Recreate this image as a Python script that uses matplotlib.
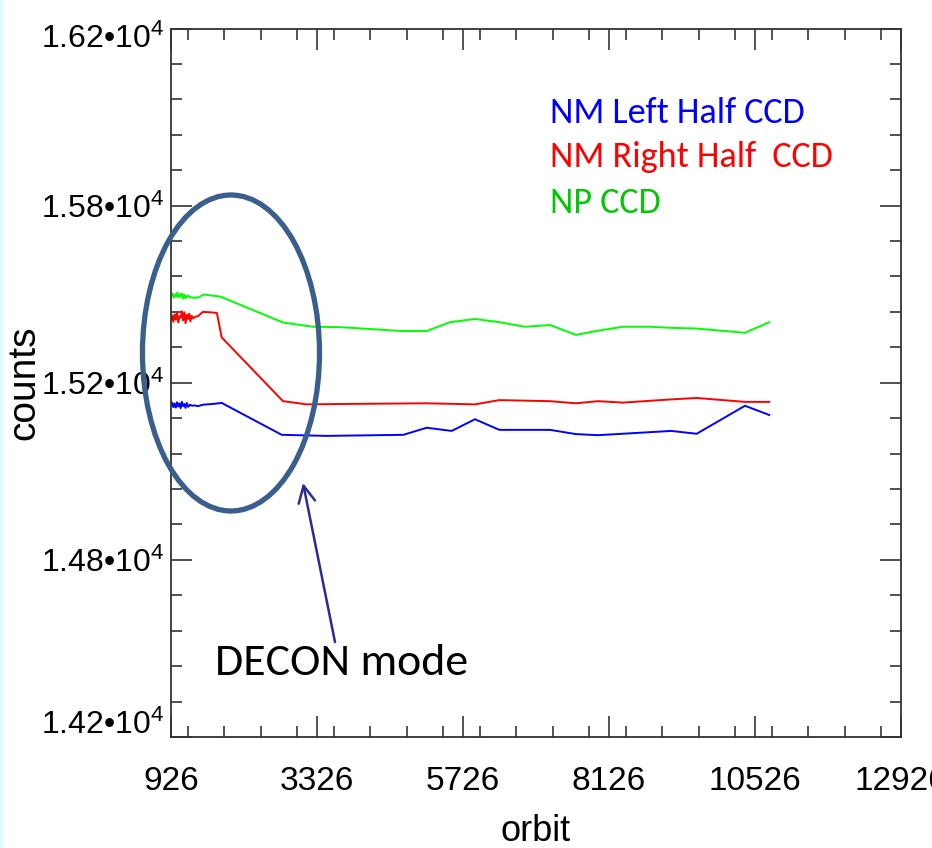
import matplotlib
matplotlib.use("Agg")
import matplotlib.pyplot as plt
from matplotlib import font_manager
from matplotlib.patches import Ellipse, Rectangle
from matplotlib.ticker import FixedLocator, FixedFormatter, MultipleLocator
from matplotlib.transforms import ScaledTranslation

# ---- data -------------------------------------------------------------
left_orbit = [926, 945, 965, 985, 1005, 1025, 1045, 1065, 1085, 1105, 1125,
              1145, 1165, 1185, 1210, 1240, 1270, 1310, 1370, 1450, 1600,
              1760, 2746, 3485, 4745, 5129, 5540, 5923, 6323, 7156, 7583,
              7945, 9150, 9567, 10361, 10761]
left_counts = [15137, 15144, 15131, 15141, 15130, 15145, 15133, 15142, 15128,
               15146, 15134, 15140, 15129, 15143, 15132, 15138, 15135, 15136,
               15134, 15138, 15140, 15143, 15053, 15050, 15053, 15073, 15064,
               15097, 15067, 15067, 15055, 15052, 15064, 15056, 15135, 15109]

right_orbit = [926, 945, 965, 985, 1005, 1025, 1045, 1065, 1085, 1105, 1125,
               1145, 1165, 1185, 1205, 1225, 1245, 1265, 1290, 1320, 1370,
               1450, 1560, 1680, 1759, 2767, 3157, 3704, 5129, 5923, 6323,
               7156, 7583, 7945, 8356, 9150, 9567, 10361, 10761]
right_counts = [15381, 15390, 15372, 15393, 15378, 15398, 15370, 15388, 15384,
                15402, 15376, 15399, 15368, 15392, 15380, 15395, 15373, 15389,
                15382, 15386, 15388, 15400, 15399, 15397, 15328, 15148, 15139,
                15140, 15142, 15139, 15151, 15148, 15142, 15148, 15144, 15153,
                15157, 15146, 15146]

np_orbit = [926, 950, 970, 990, 1010, 1030, 1050, 1070, 1090, 1110, 1130,
            1150, 1170, 1200, 1230, 1260, 1300, 1340, 1380, 1420, 1468, 1560,
            1740, 2767, 3260, 3704, 4718, 5129, 5512, 5923, 6323, 6745, 7156,
            7583, 7945, 8356, 8800, 9150, 9567, 10361, 10761]
np_counts = [15446, 15452, 15440, 15449, 15443, 15455, 15441, 15450, 15444,
             15452, 15437, 15448, 15439, 15446, 15443, 15441, 15440, 15440,
             15441, 15445, 15449, 15447, 15443, 15370, 15358, 15357, 15346,
             15346, 15371, 15380, 15371, 15358, 15363, 15335, 15347, 15358,
             15358, 15355, 15353, 15341, 15371]

x_ticks = [926, 3326, 5726, 8126, 10526, 12926]
x_tick_labels = ["926", "3326", "5726", "8126", "10526", "12926"]
y_ticks = [14200, 14700, 15200, 15700, 16200]
y_tick_labels = ["1.42\u202210$^{4}$", "1.48\u202210$^{4}$", "1.52\u202210$^{4}$",
                 "1.58\u202210$^{4}$", "1.62\u202210$^{4}$"]

series_names = ["NM Left Half CCD", "NM Right Half  CCD", "NP CCD"]
line_colors = ["#0000ff", "#ff0000", "#00ff00"]
text_colors = ["#0000ff", "#ff0000", "#00c800"]

# ---- fonts ------------------------------------------------------------
available = {f.name for f in font_manager.fontManager.ttflist}
axis_font = "Liberation Sans Narrow" if "Liberation Sans Narrow" in available else "Liberation Sans"
note_font = "Carlito" if "Carlito" in available else "Lato"
narrow = axis_font.endswith("Narrow")
xtick_size = 27 if narrow else 24
ytick_size = 27 if narrow else 23

plt.rcParams["font.family"] = [axis_font, "DejaVu Sans"]
plt.rcParams["mathtext.fontset"] = "custom"
plt.rcParams["mathtext.rm"] = axis_font
plt.rcParams["mathtext.it"] = axis_font
plt.rcParams["mathtext.bf"] = axis_font

# ---- figure -----------------------------------------------------------
fig = plt.figure(figsize=(9.32, 8.48), dpi=100)
fig.patches.append(Rectangle((0, 0), 4 / 932, 1, transform=fig.transFigure,
                             facecolor="#e2fbfd", edgecolor="none", zorder=0))
ax = fig.add_axes([171 / 932, 1 - 737 / 848, 730 / 932, 708.5 / 848])

for xs, ys, c in zip([left_orbit, right_orbit, np_orbit],
                     [left_counts, right_counts, np_counts], line_colors):
    ax.plot(xs, ys, color=c, lw=1.4, solid_joinstyle="round")

ax.set_xlim(926, 12926)
ax.set_ylim(14200, 16200)

ax.xaxis.set_major_locator(FixedLocator(x_ticks))
ax.xaxis.set_major_formatter(FixedFormatter(x_tick_labels))
ax.xaxis.set_minor_locator(MultipleLocator(600))
ax.yaxis.set_major_locator(FixedLocator(y_ticks))
ax.yaxis.set_major_formatter(FixedFormatter(y_tick_labels))
ax.yaxis.set_minor_locator(MultipleLocator(100))

ax.tick_params(which="both", direction="in", top=True, right=True,
               color="#333333", width=1.2)
ax.tick_params(which="major", length=15)
ax.tick_params(which="minor", length=8)
ax.tick_params(axis="x", which="major", labelsize=xtick_size, pad=21)
ax.tick_params(axis="y", which="major", labelsize=ytick_size, pad=5)

for s in ax.spines.values():
    s.set_color("#333333")
    s.set_linewidth(1.3)

# end labels sit inside the axis range
yt = ax.yaxis.get_major_ticks()
yt[0].label1.set_transform(yt[0].label1.get_transform() +
                           ScaledTranslation(0, 15 / 100, fig.dpi_scale_trans))
yt[-1].label1.set_transform(yt[-1].label1.get_transform() +
                            ScaledTranslation(0, -7 / 100, fig.dpi_scale_trans))

ax.set_xlabel("orbit", fontsize=26)
ax.xaxis.set_label_coords(0.5, -0.108)
ax.set_ylabel("counts", fontsize=28, family="Liberation Sans")
ax.yaxis.set_label_coords(-0.176, 0.5)

# series names
for name, c, yv in zip(series_names, text_colors, [15933, 15809, 15679]):
    ax.text(7156, yv, name, color=c, fontsize=26, family=note_font, va="baseline")

# DECON annotation
ax.add_patch(Ellipse((1912, 15284), 2910, 892, fill=False, ec="#3b5f8d",
                     lw=3.8, clip_on=False, zorder=5))
ax.annotate("", xy=(3096, 14917), xytext=(3622, 14468),
            arrowprops=dict(arrowstyle="->,head_length=0.6,head_width=0.3",
                            color="#2b2b95", lw=1.8, mutation_scale=20,
                            shrinkA=0, shrinkB=0))
ax.text(1649, 14375, "DECON mode", fontsize=33, family=note_font,
        color="black", va="baseline")

fig.savefig("out.png", dpi=100)
